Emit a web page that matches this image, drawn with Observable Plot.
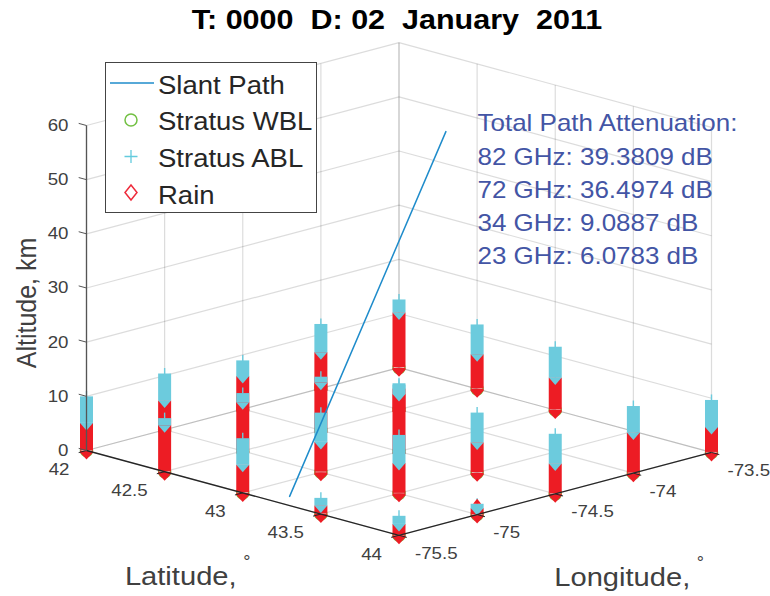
<!DOCTYPE html>
<html>
<head>
<meta charset="utf-8">
<script src="https://cdn.jsdelivr.net/npm/d3@7"></script>
<script src="https://cdn.jsdelivr.net/npm/@observablehq/plot@0.6"></script>
<style>
  html, body { margin: 0; padding: 0; background: #fff; }
  body { width: 770px; height: 596px; overflow: hidden; position: relative; font-family: "Liberation Sans", Arial, sans-serif; }
  #title { height: 38px; line-height: 40px; text-align: center; font-weight: bold; font-size: 27px; color: #000; white-space: pre; transform: scaleX(1.13); transform-origin: 397px 0; width: 794px; }
  #chart svg { display: block; }
  #legend { position: absolute; left: 105px; top: 62px; width: 212px; height: 151px; box-sizing: border-box; border: 1.5px solid #444; background: #fff; }
  #legend span { position: absolute; left: 52px; font-size: 25px; line-height: 30px; color: #262626; white-space: pre; transform: scaleX(1.1); transform-origin: 0 0; }
  #legend svg { position: absolute; left: 0; top: 0; }
</style>
</head>
<body>
<div id="title">T: 0000  D: 02  January  2011</div>
<div id="chart"></div>
<div id="legend">
  <svg width="209" height="148">
    <line x1="4" x2="48" y1="20" y2="20" stroke="#1f8ccb" stroke-width="1.5"/>
    <circle cx="25" cy="57" r="6" fill="none" stroke="#72c043" stroke-width="1.5"/>
    <path d="M25 87V100M18.5 93.5H31.5" fill="none" stroke="#63cbdd" stroke-width="1.3"/>
    <path d="M25 122L31 129.5L25 137L19 129.5Z" fill="none" stroke="#ee2a3a" stroke-width="1.5"/>
  </svg>
  <span style="top:7px">Slant Path</span>
  <span style="top:43px">Stratus WBL</span>
  <span style="top:80px">Stratus ABL</span>
  <span style="top:117px">Rain</span>
</div>
<script>
// Grid of the model output
const latTicks = [42, 42.5, 43, 43.5, 44];
const lonTicks = [-75.5, -75, -74.5, -74, -73.5];
const altTicks = [0, 10, 20, 30, 40, 50, 60];

// One entry per column of markers
const colLat = [42, 42.5, 43, 43.5, 44, 42, 42.5, 43, 43.5, 44, 42, 42.5, 43, 43.5, 44, 42, 42.5, 44, 42, 42.5, 43, 44];
const colLon = [-75.5, -75.5, -75.5, -75.5, -75.5, -75, -75, -75, -75, -75, -74.5, -74.5, -74.5, -74.5, -74.5, -74, -74, -74, -73.5, -73.5, -73.5, -73.5];
const rainTop = [5.0, 8.5, 5.1, 1.5, 2.0, 5.3, 8.9, 5.5, 5.5, 1.1, 6.0, 8.7, 10.5, 5.5, 5.5, 6.6, 3.8, 7.4, 10.1, 6.3, 5.9, 4.6];
const cloudTop = [9.9, 9.8, 10.0, 2.9, 3.5, 10.3, 10.6, 10.9, 10.7, 1.9, 8.9, 9.8, 12.5, 11.0, 11.0, 11.8, 4.5, 12.3, 12.5, 11.8, 11.6, 9.6];

// Isolated rain marker above the cloud stack
const peakLat = [44];
const peakLon = [-75];
const peakAlt = [2.0];

// Slant path end points
const pathLat = [43.19, 43.21];
const pathLon = [-75.39, -74.41];
const pathAlt = [0, 60];

const attenuation = [
  "Total Path Attenuation:",
  "82 GHz: 39.3809 dB",
  "72 GHz: 36.4974 dB",
  "34 GHz: 9.0887 dB",
  "23 GHz: 6.0783 dB"
];

// Fixed oblique view of (lat, lon, alt) on the plane of the page
const latU = lat => (lat - 42) / 2;
const lonV = lon => (lon + 75.5) / 2;
const px = (lat, lon) => latU(lat) + lonV(lon);
const py = (lat, lon, alt) => alt - 15.65 * latU(lat) + 15.29 * lonV(lon);

const pt = (lat, lon, alt) => [px(lat, lon), py(lat, lon, alt)];
const seg = (a, b) => { const p = pt(...a), q = pt(...b); return {x1: p[0], y1: p[1], x2: q[0], y2: q[1]}; };

const [la0, la1] = [latTicks[0], latTicks[4]];
const [lo0, lo1] = [lonTicks[0], lonTicks[4]];
const zTop = altTicks[6];

const grid = [
  ...latTicks.map(t => seg([t, lo0, 0], [t, lo1, 0])),
  ...lonTicks.map(t => seg([la0, t, 0], [la1, t, 0])),
  ...altTicks.map(a => seg([la0, lo0, a], [la0, lo1, a])),
  ...altTicks.map(a => seg([la0, lo1, a], [la1, lo1, a])),
  ...lonTicks.map(t => seg([la0, t, 0], [la0, t, zTop])),
  ...latTicks.map(t => seg([t, lo1, 0], [t, lo1, zTop]))
];

const axes = [
  seg([la1, lo0, 0], [la0, lo0, 0]),
  seg([la1, lo0, 0], [la1, lo1, 0])
];
const ticks = [
  ...latTicks.map(t => seg([t, lo0, 0], [t, lo0 - 0.05, 0])),
  ...lonTicks.map(t => seg([la1, t, 0], [la1 + 0.05, t, 0]))
];
const zAxis = [seg([la0, lo0, 0], [la0, lo0, zTop])];
const zTicks = altTicks.map(a => seg([la0, lo0, a], [la0 - 0.05, lo0, a]));

const columns = colLat.map((lat, i) => ({
  X: px(lat, colLon[i]),
  base: py(lat, colLon[i], 0),
  rain: py(lat, colLon[i], rainTop[i]),
  cloud: py(lat, colLon[i], cloudTop[i]),
  depth: (lat - colLon[i])
})).sort((a, b) => a.depth - b.depth);

const peaks = peakLat.map((lat, i) => ({X: px(lat, peakLon[i]), Y: py(lat, peakLon[i], peakAlt[i])}));

// Marker outlines that the dense stacks of markers end in
const polySymbol = pts => ({draw(ctx) {
  pts.forEach((p, i) => i ? ctx.lineTo(p[0], p[1]) : ctx.moveTo(p[0], p[1]));
  ctx.closePath();
}});
const foot = polySymbol([[-6.5, 0], [6.5, 0], [6.5, 2], [0, 9], [-6.5, 2]]);
const notch = polySymbol([[-6.5, -0.5], [6.5, -0.5], [0, 7]]);
const stem = polySymbol([[-0.7, 0], [0.7, 0], [0.7, -6], [-0.7, -6]]);
const smallTip = polySymbol([[-4, 0], [0, -5], [4, 0]]);

const RED = "#ed1c24", CYAN = "#6ccbdd", GREEN = "#72c043", INK = "#404040";

const columnMarks = columns.flatMap(c => [
  Plot.dot([c], {x: "X", y: "base", r: 6, stroke: GREEN, strokeWidth: 1.5, fill: "none"}),
  Plot.ruleX([c], {x: "X", y1: "base", y2: "rain", stroke: RED, strokeWidth: 13}),
  Plot.dot([c], {x: "X", y: "base", r: 6, symbol: foot, fill: RED, stroke: "none"}),
  Plot.ruleX([c], {x: "X", y1: "rain", y2: "cloud", stroke: CYAN, strokeWidth: 13}),
  Plot.dot([c], {x: "X", y: "rain", r: 6, symbol: notch, fill: CYAN, stroke: "none"}),
  Plot.dot([c], {x: "X", y: "cloud", r: 6, symbol: stem, fill: CYAN, stroke: "none"})
]);

const latRows = latTicks.map(t => ({t, X: px(t, lo0), Y: py(t, lo0, 0)}));
const lonRows = lonTicks.map(t => ({t, X: px(la1, t), Y: py(la1, t, 0)}));
const altRows = altTicks.map(t => ({t, X: px(la0, lo0), Y: py(la0, lo0, t)}));
const tickFont = {fontSize: 16.7, fill: INK};
const noteRows = [85, 119, 152, 185, 218];

const chart = Plot.plot({
  width: 770,
  height: 558,
  margin: 0,
  style: {fontFamily: '"Liberation Sans", Arial, sans-serif', background: "transparent"},
  x: {domain: [0, 2], range: [86, 711], axis: null},
  y: {domain: [0, 60], range: [412, 87], axis: null},
  marks: [
    Plot.link(grid, {x1: "x1", y1: "y1", x2: "x2", y2: "y2", stroke: "#262626", strokeOpacity: 0.16, strokeWidth: 1.2}),
    ...columnMarks,
    Plot.dot(peaks, {x: "X", y: "Y", r: 4, symbol: smallTip, fill: RED, stroke: "none"}),
    Plot.link(axes, {x1: "x1", y1: "y1", x2: "x2", y2: "y2", stroke: "#262626", strokeWidth: 1.3}),
    Plot.link(ticks, {x1: "x1", y1: "y1", x2: "x2", y2: "y2", stroke: "#262626", strokeWidth: 1}),
    Plot.link(zAxis, {x1: "x1", y1: "y1", x2: "x2", y2: "y2", stroke: "#555", strokeWidth: 1.3}),
    Plot.link(zTicks, {x1: "x1", y1: "y1", x2: "x2", y2: "y2", stroke: "#555", strokeWidth: 1}),
    Plot.line(pathLat.map((lat, i) => pt(lat, pathLon[i], pathAlt[i])), {x: d => d[0], y: d => d[1], stroke: "#1f8ccb", strokeWidth: 1.5}),
    Plot.text(latRows, {x: "X", y: "Y", text: d => String(d.t), textAnchor: "end", dx: -17, dy: 19, ...tickFont}),
    Plot.text(lonRows, {x: "X", y: "Y", text: d => String(d.t), textAnchor: "start", dx: 16, dy: 18, ...tickFont}),
    Plot.text(altRows, {x: "X", y: "Y", text: d => String(d.t), textAnchor: "end", dx: -18, ...tickFont}),
    Plot.text([latRows[2]], {x: "X", y: "Y", text: () => "Latitude,", dx: -62, dy: 84, fontSize: 26, fill: INK}),
    Plot.text([latRows[2]], {x: "X", y: "Y", text: () => "°", dx: 4, dy: 69, fontSize: 18, fill: INK}),
    Plot.text([lonRows[2]], {x: "X", y: "Y", text: () => "Longitude,", dx: 67, dy: 84, fontSize: 26, fill: INK}),
    Plot.text([lonRows[2]], {x: "X", y: "Y", text: () => "°", dx: 145, dy: 69, fontSize: 18, fill: INK}),
    Plot.text([altRows[3]], {x: "X", y: "Y", text: () => "Altitude, km", rotate: -90, dx: -59, dy: 15, fontSize: 25, fill: INK}),
    ...attenuation.map((line, i) => Plot.text([line], {
      text: d => d, frameAnchor: "top-left", textAnchor: "start", lineAnchor: "middle",
      dx: 477, dy: noteRows[i], fontSize: 23.2, fill: "#4355a5"
    }))
  ]
});
document.getElementById("chart").appendChild(chart);

// The reference is slightly wider than tall: widen the texts to match
chart.querySelectorAll("text").forEach(t => {
  if (t.textContent === "°") return;
  if (t.textContent === "Altitude, km") {
    t.setAttribute("transform", (t.getAttribute("transform") || "") + " scale(1,1.12)");
    return;
  }
  t.setAttribute("textLength", t.getComputedTextLength() * 1.12);
  t.setAttribute("lengthAdjust", "spacingAndGlyphs");
});
</script>
</body>
</html>
